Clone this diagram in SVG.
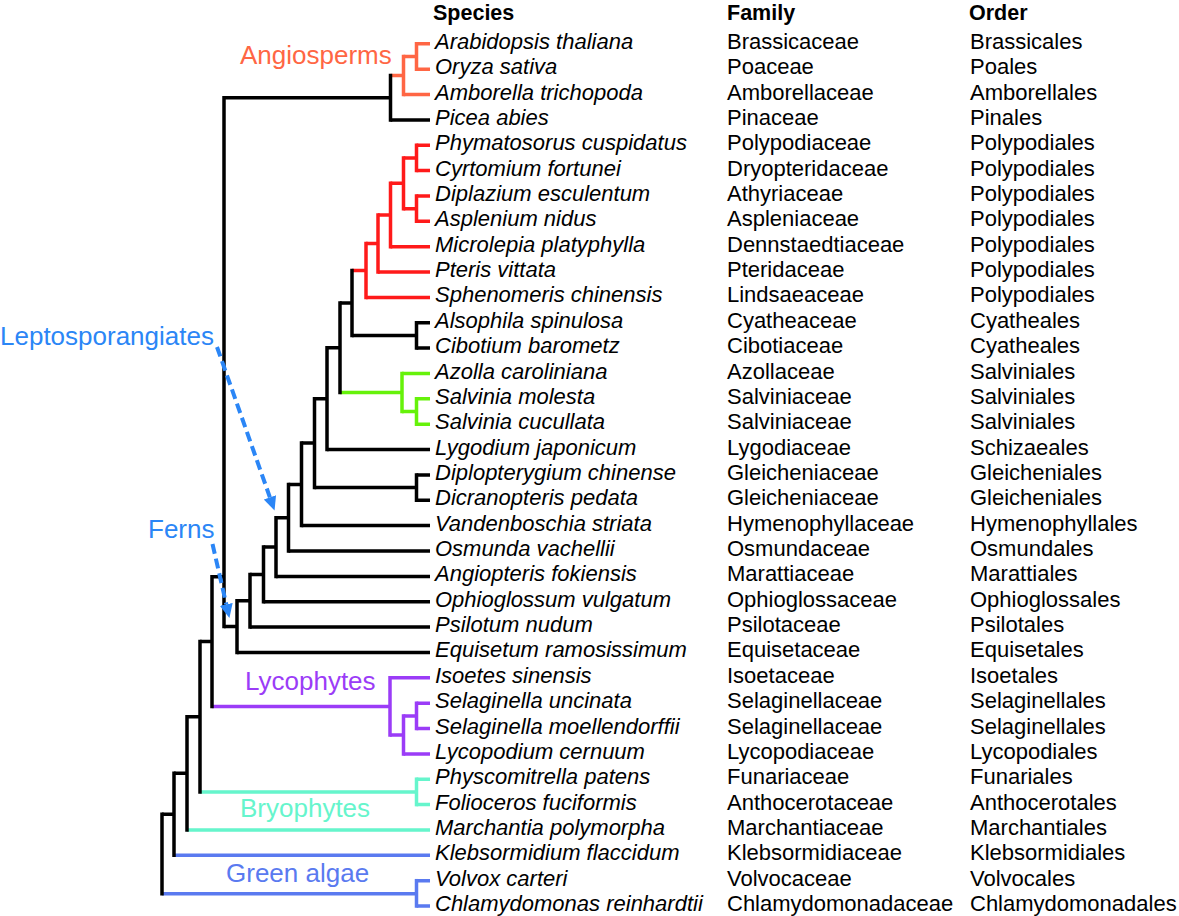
<svg xmlns="http://www.w3.org/2000/svg" width="1179" height="916" viewBox="0 0 1179 916">
<style>
text{font-family:"Liberation Sans",Arial,Helvetica,sans-serif;font-size:22px;fill:#000}
.hd{font-weight:bold;font-size:21.5px}
.sp{font-style:italic}
.lab{font-size:26px}
.h{fill:none;stroke-width:3.5;stroke-linecap:butt}
.v{fill:none;stroke-width:3.5;stroke-linecap:square}
.k{stroke:#000}
.an{stroke:#FF6644}
.fe{stroke:#FF1A1A}
.sa{stroke:#66F20A}
.ly{stroke:#9B3CF7}
.br{stroke:#66F5CC}
.ga{stroke:#5A7AF0}
.arr{fill:none;stroke:#2B86F6;stroke-width:4;stroke-dasharray:10 5}
</style>
<defs>
<marker id="ah" viewBox="0 0 14 13" refX="0" refY="6.5" markerWidth="14" markerHeight="13" orient="auto" markerUnits="userSpaceOnUse">
<path d="M0,0 L14,6.5 L0,13 z" fill="#2B86F6"/>
</marker>
</defs>
<g id="connectors">
<g id="horizontals">
<path class="h k" d="M390.5,119.9H430M224,97.7H390.5M224,626.6H237M237,652.4H430M237,600.7H250M250,627.1H430M250,574.4H263.5M263.5,601.7H430M263.5,547H276M276,576.4H430M276,517.7H288.5M288.5,551H430M288.5,484.4H301.5M301.5,525.6H430M301.5,443.1H314.5M314.5,487.6H416.5M416.5,474.9H430M416.5,500.3H430M314.5,398.7H327M327,449.6H430M327,347.7H340M340,303H352M352,335.5H416.5M416.5,322.8H430M416.5,348.1H430M212,576.7H224M200,641.5H212M187,716.7H200M174,773.3H187M162,814.3H174"/>
<path class="h an" d="M390.5,75.5H403.5M403.5,94.5H430M403.5,56.5H416.5M416.5,43.8H430M416.5,69.2H430"/>
<path class="h fe" d="M352,270.5H366M366,297.4H430M366,243.5H378M378,272H430M378,215H390.5M390.5,246.7H430M390.5,183.3H403.5M403.5,157.9H416.5M416.5,145.2H430M416.5,170.6H430M403.5,208.7H416.5M416.5,196H430M416.5,221.3H430"/>
<path class="h sa" d="M340,392.5H402M402,373.5H430M402,411.5H416.5M416.5,398.8H430M416.5,424.2H430"/>
<path class="h ly" d="M212,706.4H390M390,677.8H430M390,735.1H403.5M403.5,753.9H430M403.5,715.9H416.5M416.5,703.2H430M416.5,728.5H430"/>
<path class="h br" d="M200,791.9H416.5M416.5,779.2H430M416.5,804.6H430M187,830H430"/>
<path class="h ga" d="M174,855.3H430M162,893.8H416.5M416.5,880.7H430M416.5,906H430"/>
</g>
<g id="verticals">
<path class="v k" d="M390.5,75.5V119.9M224,97.7V626.6M237,600.7V652.4M250,574.4V627.1M263.5,547V601.7M276,517.7V576.4M288.5,484.4V551M301.5,443.1V525.6M314.5,398.7V487.6M416.5,474.9V500.3M327,347.7V449.6M340,303V392.5M352,270.5V335.5M416.5,322.8V348.1M212,576.7V706.4M200,641.5V791.9M187,716.7V830M174,773.3V855.3M162,814.3V893.8"/>
<path class="v an" d="M403.5,56.5V94.5M416.5,43.8V69.2"/>
<path class="v fe" d="M366,243.5V297.4M378,215V272M390.5,183.3V246.7M403.5,157.9V208.7M416.5,145.2V170.6M416.5,196V221.3"/>
<path class="v sa" d="M402,373.5V411.5M416.5,398.8V424.2"/>
<path class="v ly" d="M390,677.8V735.1M403.5,715.9V753.9M416.5,703.2V728.5"/>
<path class="v br" d="M416.5,779.2V804.6"/>
<path class="v ga" d="M416.5,880.7V906"/>
</g>
<g id="arrows">
<path class="arr" d="M217,347L269.9,497.3" marker-end="url(#ah)"/>
<path class="arr" d="M212.5,544L226.3,604.4" marker-end="url(#ah)"/>
</g>
</g>
<g id="clade-labels">
<g id="label-angiosperms"><text class="lab" x="240" y="63.5" style="fill:#FF6644">Angiosperms</text></g>
<g id="label-leptosporangiates"><text class="lab" x="0" y="345" style="fill:#2B86F6">Leptosporangiates</text></g>
<g id="label-ferns"><text class="lab" x="148" y="538" style="fill:#2B86F6">Ferns</text></g>
<g id="label-lycophytes"><text class="lab" x="245" y="690" style="fill:#9B3CF7">Lycophytes</text></g>
<g id="label-bryophytes"><text class="lab" x="240" y="817" style="fill:#66F5CC">Bryophytes</text></g>
<g id="label-green-algae"><text class="lab" x="226" y="882" style="fill:#5A7AF0">Green algae</text></g>
</g>
<g id="header">
<text class="hd" x="433" y="19.5">Species</text>
<text class="hd" x="727" y="19.5">Family</text>
<text class="hd" x="969" y="19.5">Order</text>
</g>
<g id="rows">
<g id="r00" transform="translate(0,48.8)"><text class="sp" x="435">Arabidopsis thaliana</text><text x="727">Brassicaceae</text><text x="970">Brassicales</text></g>
<g id="r01" transform="translate(0,74.2)"><text class="sp" x="435">Oryza sativa</text><text x="727">Poaceae</text><text x="970">Poales</text></g>
<g id="r02" transform="translate(0,99.5)"><text class="sp" x="435">Amborella trichopoda</text><text x="727">Amborellaceae</text><text x="970">Amborellales</text></g>
<g id="r03" transform="translate(0,124.9)"><text class="sp" x="435">Picea abies</text><text x="727">Pinaceae</text><text x="970">Pinales</text></g>
<g id="r04" transform="translate(0,150.2)"><text class="sp" x="435">Phymatosorus cuspidatus</text><text x="727">Polypodiaceae</text><text x="970">Polypodiales</text></g>
<g id="r05" transform="translate(0,175.6)"><text class="sp" x="435">Cyrtomium fortunei</text><text x="727">Dryopteridaceae</text><text x="970">Polypodiales</text></g>
<g id="r06" transform="translate(0,201)"><text class="sp" x="435">Diplazium esculentum</text><text x="727">Athyriaceae</text><text x="970">Polypodiales</text></g>
<g id="r07" transform="translate(0,226.3)"><text class="sp" x="435">Asplenium nidus</text><text x="727">Aspleniaceae</text><text x="970">Polypodiales</text></g>
<g id="r08" transform="translate(0,251.7)"><text class="sp" x="435">Microlepia platyphylla</text><text x="727">Dennstaedtiaceae</text><text x="970">Polypodiales</text></g>
<g id="r09" transform="translate(0,277)"><text class="sp" x="435">Pteris vittata</text><text x="727">Pteridaceae</text><text x="970">Polypodiales</text></g>
<g id="r10" transform="translate(0,302.4)"><text class="sp" x="435">Sphenomeris chinensis</text><text x="727">Lindsaeaceae</text><text x="970">Polypodiales</text></g>
<g id="r11" transform="translate(0,327.8)"><text class="sp" x="435">Alsophila spinulosa</text><text x="727">Cyatheaceae</text><text x="970">Cyatheales</text></g>
<g id="r12" transform="translate(0,353.1)"><text class="sp" x="435">Cibotium barometz</text><text x="727">Cibotiaceae</text><text x="970">Cyatheales</text></g>
<g id="r13" transform="translate(0,378.5)"><text class="sp" x="435">Azolla caroliniana</text><text x="727">Azollaceae</text><text x="970">Salviniales</text></g>
<g id="r14" transform="translate(0,403.8)"><text class="sp" x="435">Salvinia molesta</text><text x="727">Salviniaceae</text><text x="970">Salviniales</text></g>
<g id="r15" transform="translate(0,429.2)"><text class="sp" x="435">Salvinia cucullata</text><text x="727">Salviniaceae</text><text x="970">Salviniales</text></g>
<g id="r16" transform="translate(0,454.6)"><text class="sp" x="435">Lygodium japonicum</text><text x="727">Lygodiaceae</text><text x="970">Schizaeales</text></g>
<g id="r17" transform="translate(0,479.9)"><text class="sp" x="435">Diplopterygium chinense</text><text x="727">Gleicheniaceae</text><text x="970">Gleicheniales</text></g>
<g id="r18" transform="translate(0,505.3)"><text class="sp" x="435">Dicranopteris pedata</text><text x="727">Gleicheniaceae</text><text x="970">Gleicheniales</text></g>
<g id="r19" transform="translate(0,530.6)"><text class="sp" x="435">Vandenboschia striata</text><text x="727">Hymenophyllaceae</text><text x="970">Hymenophyllales</text></g>
<g id="r20" transform="translate(0,556)"><text class="sp" x="435">Osmunda vachellii</text><text x="727">Osmundaceae</text><text x="970">Osmundales</text></g>
<g id="r21" transform="translate(0,581.4)"><text class="sp" x="435">Angiopteris fokiensis</text><text x="727">Marattiaceae</text><text x="970">Marattiales</text></g>
<g id="r22" transform="translate(0,606.7)"><text class="sp" x="435">Ophioglossum vulgatum</text><text x="727">Ophioglossaceae</text><text x="970">Ophioglossales</text></g>
<g id="r23" transform="translate(0,632.1)"><text class="sp" x="435">Psilotum nudum</text><text x="727">Psilotaceae</text><text x="970">Psilotales</text></g>
<g id="r24" transform="translate(0,657.4)"><text class="sp" x="435">Equisetum ramosissimum</text><text x="727">Equisetaceae</text><text x="970">Equisetales</text></g>
<g id="r25" transform="translate(0,682.8)"><text class="sp" x="435">Isoetes sinensis</text><text x="727">Isoetaceae</text><text x="970">Isoetales</text></g>
<g id="r26" transform="translate(0,708.2)"><text class="sp" x="435">Selaginella uncinata</text><text x="727">Selaginellaceae</text><text x="970">Selaginellales</text></g>
<g id="r27" transform="translate(0,733.5)"><text class="sp" x="435">Selaginella moellendorffii</text><text x="727">Selaginellaceae</text><text x="970">Selaginellales</text></g>
<g id="r28" transform="translate(0,758.9)"><text class="sp" x="435">Lycopodium cernuum</text><text x="727">Lycopodiaceae</text><text x="970">Lycopodiales</text></g>
<g id="r29" transform="translate(0,784.2)"><text class="sp" x="435">Physcomitrella patens</text><text x="727">Funariaceae</text><text x="970">Funariales</text></g>
<g id="r30" transform="translate(0,809.6)"><text class="sp" x="435">Folioceros fuciformis</text><text x="727">Anthocerotaceae</text><text x="970">Anthocerotales</text></g>
<g id="r31" transform="translate(0,835)"><text class="sp" x="435">Marchantia polymorpha</text><text x="727">Marchantiaceae</text><text x="970">Marchantiales</text></g>
<g id="r32" transform="translate(0,860.3)"><text class="sp" x="435">Klebsormidium flaccidum</text><text x="727">Klebsormidiaceae</text><text x="970">Klebsormidiales</text></g>
<g id="r33" transform="translate(0,885.7)"><text class="sp" x="435">Volvox carteri</text><text x="727">Volvocaceae</text><text x="970">Volvocales</text></g>
<g id="r34" transform="translate(0,910.8)"><text class="sp" x="435">Chlamydomonas reinhardtii</text><text x="727">Chlamydomonadaceae</text><text x="970">Chlamydomonadales</text></g>
</g>
</svg>
